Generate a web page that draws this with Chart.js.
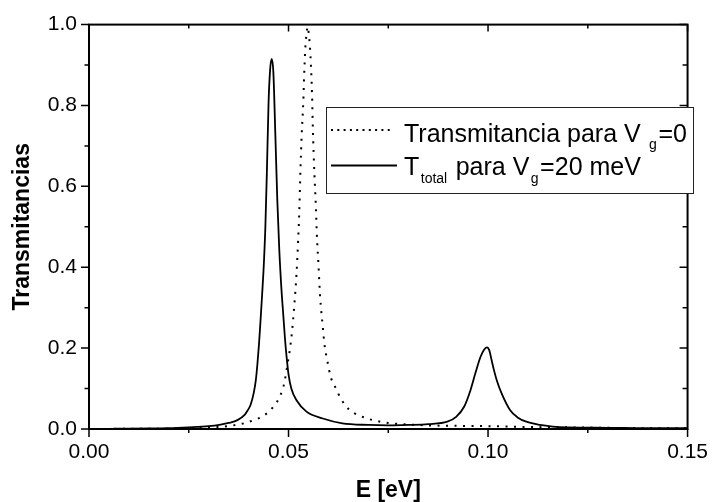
<!DOCTYPE html>
<html>
<head>
<meta charset="utf-8">
<title>Transmitancias</title>
<script src="https://cdn.jsdelivr.net/npm/chart.js@4.4.0/dist/chart.umd.min.js"></script>
<style>
    html, body { margin: 0; padding: 0; background: #fff; }
    #chart { display: block; }
</style>
</head>
<body>
<canvas id="chart" width="719" height="502"></canvas>
<script>
// T total para Vg = 20 meV
const energiaTotal = [0.000, 0.005, 0.010, 0.015, 0.020, 0.025, 0.030, 0.033, 0.035, 0.0372,
    0.039, 0.0397, 0.0405, 0.0413, 0.0418, 0.0422, 0.0426, 0.0430, 0.0434, 0.0438,
    0.0442, 0.0446, 0.0450, 0.0454, 0.0458, 0.0462, 0.0467, 0.0472, 0.0477, 0.0482,
    0.0487, 0.0491, 0.0495, 0.0500, 0.0507, 0.0520, 0.0545, 0.0586, 0.0635, 0.070,
    0.075, 0.080, 0.085, 0.0898, 0.092, 0.094, 0.0956, 0.0968, 0.0981, 0.0990,
    0.0997, 0.1003, 0.1009, 0.1015, 0.1022, 0.1034, 0.1055, 0.1075, 0.1096, 0.113,
    0.1162, 0.120, 0.130, 0.140, 0.150];
const tTotal = [0.000, 0.0005, 0.001, 0.0015, 0.002, 0.004, 0.007, 0.011, 0.015, 0.022,
    0.035, 0.045, 0.060, 0.090, 0.120, 0.160, 0.210, 0.270, 0.335, 0.405,
    0.500, 0.645, 0.808, 0.890, 0.915, 0.882, 0.727, 0.563, 0.440, 0.350,
    0.280, 0.225, 0.180, 0.135, 0.100, 0.071, 0.043, 0.026, 0.014, 0.010,
    0.009, 0.010, 0.012, 0.018, 0.030, 0.055, 0.096, 0.137, 0.178, 0.196,
    0.202, 0.195, 0.170, 0.145, 0.120, 0.088, 0.047, 0.028, 0.018, 0.010,
    0.006, 0.004, 0.003, 0.002, 0.002];

// Transmitancia para Vg = 0
const energiaV0 = [0.000, 0.010, 0.020, 0.025, 0.0306, 0.0355, 0.0388, 0.0413, 0.0438, 0.0462,
    0.0479, 0.0489, 0.0497, 0.0503, 0.0509, 0.0514, 0.0520, 0.0524, 0.0527, 0.0530,
    0.0533, 0.0537, 0.0539, 0.0542, 0.0545, 0.0548, 0.0551, 0.0555, 0.0559, 0.0561,
    0.0565, 0.0568, 0.0571, 0.0575, 0.0579, 0.0586, 0.0590, 0.0597, 0.0606, 0.0619,
    0.0631, 0.0652, 0.0676, 0.070, 0.075, 0.080, 0.085, 0.090, 0.100, 0.110,
    0.120, 0.130, 0.140, 0.150];
const tV0 = [0.000, 0.0005, 0.001, 0.002, 0.004, 0.008, 0.014, 0.022, 0.033, 0.055,
    0.082, 0.112, 0.157, 0.194, 0.243, 0.300, 0.383, 0.464, 0.538, 0.645,
    0.727, 0.808, 0.870, 0.940, 0.975, 0.995, 0.975, 0.923, 0.825, 0.743,
    0.628, 0.563, 0.481, 0.407, 0.330, 0.251, 0.210, 0.170, 0.128, 0.100,
    0.075, 0.048, 0.034, 0.025, 0.015, 0.011, 0.009, 0.008, 0.007, 0.005,
    0.004, 0.003, 0.002, 0.002];

const xTicks = [0, 0.05, 0.10, 0.15];
const xMinor = [0.025, 0.075, 0.125];
const yTicks = [0, 0.2, 0.4, 0.6, 0.8, 1.0];
const yMinor = [0.1, 0.3, 0.5, 0.7, 0.9];

// cada entrada: trozos de texto [texto, esSubindice]
const leyenda = [
    [['Transmitancia para V ', false], ['g', true], ['=0', false]],
    [['T', false], ['total', true], [' para V', false], ['g', true], ['=20 meV', false]]
];

const FONT = "'Liberation Sans', Arial, sans-serif";
Chart.defaults.font.family = FONT;
Chart.defaults.color = '#000';

function toPoints(xs, ys) {
    return xs.map((e, i) => ({ x: e, y: ys[i] }));
}

// marco con marcas: fuera en izquierda/abajo, dentro arriba/derecha
const marco = {
    id: 'marco',
    afterDatasetsDraw(chart) {
        const { ctx, chartArea: a, scales: { x, y } } = chart;
        ctx.save();
        ctx.strokeStyle = '#000';
        ctx.lineWidth = 1.5;
        ctx.beginPath();
        const xm = (v, len, lenTop) => {
            const px = x.getPixelForValue(v);
            ctx.moveTo(px, a.bottom); ctx.lineTo(px, a.bottom + len);
            ctx.moveTo(px, a.top); ctx.lineTo(px, a.top + lenTop);
        };
        const ym = (v, len, lenRight) => {
            const py = y.getPixelForValue(v);
            ctx.moveTo(a.left, py); ctx.lineTo(a.left - len, py);
            ctx.moveTo(a.right, py); ctx.lineTo(a.right - lenRight, py);
        };
        xTicks.forEach(v => xm(v, 8, 7));
        xMinor.forEach(v => xm(v, 4, 4));
        yTicks.forEach(v => ym(v, 8, 8));
        yMinor.forEach(v => ym(v, 4.5, 5));
        ctx.stroke();
        ctx.lineWidth = 2;
        ctx.strokeRect(a.left, a.top, a.right - a.left, a.bottom - a.top);
        ctx.restore();
    }
};

const cajaLeyenda = {
    id: 'cajaLeyenda',
    afterDraw(chart) {
        const ctx = chart.ctx;
        const bx = 326, by = 107, bw = 367, bh = 86;
        ctx.save();
        ctx.fillStyle = '#fff';
        ctx.fillRect(bx, by, bw, bh);
        ctx.strokeStyle = '#222';
        ctx.lineWidth = 1;
        ctx.strokeRect(bx + 0.5, by + 0.5, bw, bh);

        // muestras de linea
        ctx.strokeStyle = '#000';
        ctx.lineWidth = 2;
        ctx.setLineDash([2, 4.3]);
        ctx.beginPath(); ctx.moveTo(331, 130); ctx.lineTo(393, 130); ctx.stroke();
        ctx.setLineDash([]);
        ctx.lineWidth = 1.8;
        ctx.beginPath(); ctx.moveTo(331, 165.5); ctx.lineTo(397, 165.5); ctx.stroke();

        ctx.fillStyle = '#000';
        ctx.textBaseline = 'alphabetic';
        ctx.textAlign = 'left';
        const bases = [141.5, 175];
        leyenda.forEach((trozos, i) => {
            let tx = 404;
            trozos.forEach(([txt, sub]) => {
                ctx.font = sub ? '14px ' + FONT : '25px ' + FONT;
                ctx.fillText(txt, tx, bases[i] + (sub ? 7.5 : 0));
                tx += ctx.measureText(txt).width + 1.5;
            });
        });
        ctx.restore();
    }
};

new Chart(document.getElementById('chart'), {
    type: 'line',
    data: {
        datasets: [{
            label: 'Transmitancia para Vg=0',
            data: toPoints(energiaV0, tV0),
            borderColor: '#000',
            borderWidth: 2,
            borderDash: [2, 6.5],
            pointRadius: 0,
            cubicInterpolationMode: 'monotone'
        }, {
            label: 'Ttotal para Vg=20 meV',
            data: toPoints(energiaTotal, tTotal),
            borderColor: '#000',
            borderWidth: 1.8,
            pointRadius: 0,
            cubicInterpolationMode: 'monotone'
        }]
    },
    options: {
        responsive: false,
        animation: false,
        events: [],
        layout: { padding: { top: 22, right: 23, left: 0, bottom: 0 } },
        plugins: {
            legend: { display: false },
            tooltip: { enabled: false }
        },
        scales: {
            x: {
                type: 'linear',
                min: 0,
                max: 0.15,
                afterBuildTicks: s => { s.ticks = xTicks.map(v => ({ value: v })); },
                afterFit: s => { s.height = 73; },
                grid: { display: false, drawTicks: false, tickLength: 0 },
                border: { display: false },
                ticks: {
                    autoSkip: false,
                    maxRotation: 0,
                    padding: 11,
                    font: { size: 21 },
                    callback: v => v.toFixed(2)
                },
                title: {
                    display: true,
                    text: 'E [eV]',
                    font: { size: 23, weight: 'bold', lineHeight: 1.0 },
                    padding: { top: 0, bottom: 0 }
                }
            },
            y: {
                min: 0,
                max: 1,
                afterBuildTicks: s => { s.ticks = yTicks.map(v => ({ value: v })); },
                afterFit: s => { s.width = 89; },
                grid: { display: false, drawTicks: false, tickLength: 0 },
                border: { display: false },
                ticks: {
                    autoSkip: false,
                    padding: 12,
                    font: { size: 21 },
                    callback: v => v.toFixed(1)
                },
                title: {
                    display: true,
                    text: 'Transmitancias',
                    font: { size: 23, weight: 'bold', lineHeight: 1.0 },
                    padding: { top: 11, bottom: 0 }
                }
            }
        }
    },
    plugins: [marco, cajaLeyenda]
});
</script>
</body>
</html>
